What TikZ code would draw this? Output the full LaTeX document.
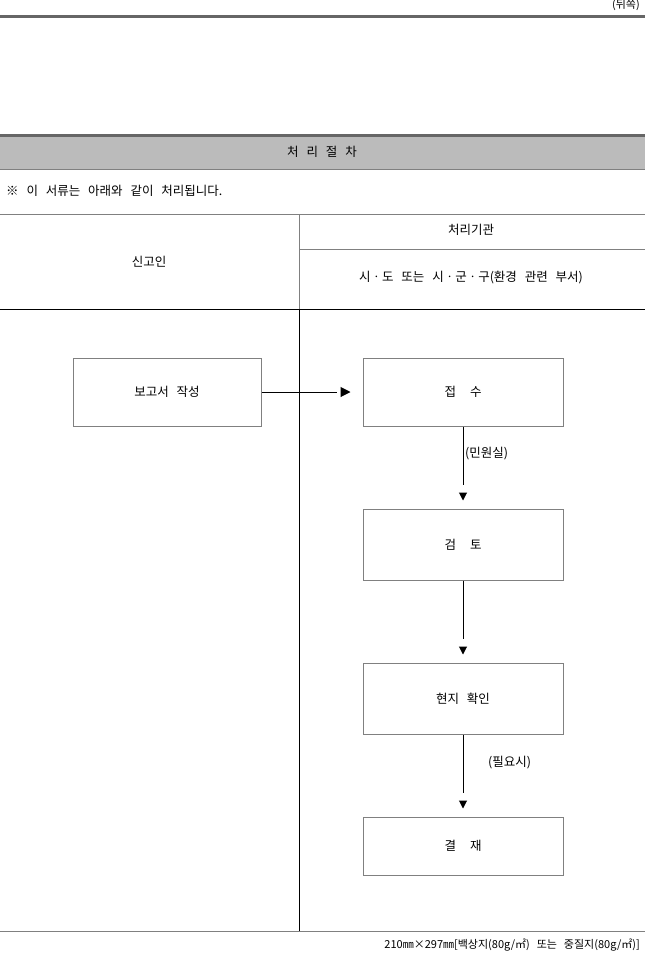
\documentclass[tikz,border=0pt]{standalone}
\usepackage{fontspec}
\setmainfont{Noto Sans CJK KR}[WordSpace={2.8}]
\usetikzlibrary{arrows.meta}
\definecolor{rulegray}{HTML}{666666}
\definecolor{bandgray}{HTML}{BBBBBB}
\definecolor{linegray}{HTML}{808080}
\begin{document}
\begin{tikzpicture}[x=1pt,y=-1pt,
  txt/.style={inner sep=0pt, font=\fontsize{12.5}{14}\selectfont, text=black},
  small/.style={inner sep=0pt, font=\fontsize{11}{13}\selectfont, text=black},
  box/.style={draw=linegray, line width=1pt, inner sep=0pt, minimum width=200pt,
              font=\fontsize{12.5}{14}\selectfont},
  conn/.style={line width=1pt},
  hhead/.style={line width=1pt, -{Triangle[length=10pt,width=10pt]}},
  vhead/.style={line width=1pt, -{Triangle[length=8pt,width=8pt]}},
  thinline/.style={draw=linegray, line width=1pt},
  blackline/.style={draw=black, line width=1pt}]
\useasboundingbox (0,0) rectangle (645,953);
% top
\node[small, anchor=east] (back) at (640,5) {(뒤쪽)};
\draw[rulegray, line width=3pt] (0,16) -- (645,16);
% band
\fill[bandgray] (0,135) rectangle (645,169);
\draw[rulegray, line width=3pt] (0,135) -- (645,135);
\draw[thinline] (0,169) -- (645,169);
\node[txt] (title) at (322,152) {처 리 절 차};
\node[txt, anchor=west] (note) at (6,191) {※ 이 서류는 아래와 같이 처리됩니다.};
% table
\draw[thinline] (0,214) -- (645,214);
\draw[thinline] (299,249) -- (645,249);
\draw[thinline] (299,214) -- (299,309);
\draw[blackline] (0,309) -- (645,309);
\draw[blackline] (299,309) -- (299,931);
\draw[thinline] (0,931) -- (645,931);
\node[txt] (applicant) at (149,262) {신고인};
\node[txt] (agency) at (471,230) {처리기관};
\node[txt] (dept) at (471,278) {시ㆍ도 또는 시ㆍ군ㆍ구(환경 관련 부서)};
% boxes
\node[box, minimum width=188pt, minimum height=68pt] (report) at (167,392) {보고서 작성};
\node[box, minimum height=68pt] (receive) at (463,392) {접\hspace{14pt}수};
\node[box, minimum height=71pt] (review) at (463,544.5) {검\hspace{14pt}토};
\node[box, minimum height=71pt] (site) at (463,698.5) {현지 확인};
\node[box, minimum height=58pt] (approve) at (463,846) {결\hspace{14pt}재};
% connectors: line, gap, then a separate triangular head
\draw[conn, shorten >=26pt] (report) -- (receive);
\draw[hhead, shorten >=12pt, shorten <=80pt] (report) -- (receive);
\draw[conn, shorten >=24pt] (receive) -- (review);
\draw[vhead, shorten >=8pt, shorten <=67pt] (receive) -- (review);
\draw[conn, shorten >=24pt] (review) -- (site);
\draw[vhead, shorten >=8pt, shorten <=67pt] (review) -- (site);
\draw[conn, shorten >=24pt] (site) -- (approve);
\draw[vhead, shorten >=8pt, shorten <=67pt] (site) -- (approve);
\node[txt, anchor=west] (l1) at (465,454) {(민원실)};
\node[txt, anchor=west] (l2) at (488,763) {(필요시)};
% footer
\node[small, anchor=east] (foot) at (640,945) {210㎜×297㎜[백상지(80g/㎡) 또는 중질지(80g/㎡)]};
\end{tikzpicture}
\end{document}
